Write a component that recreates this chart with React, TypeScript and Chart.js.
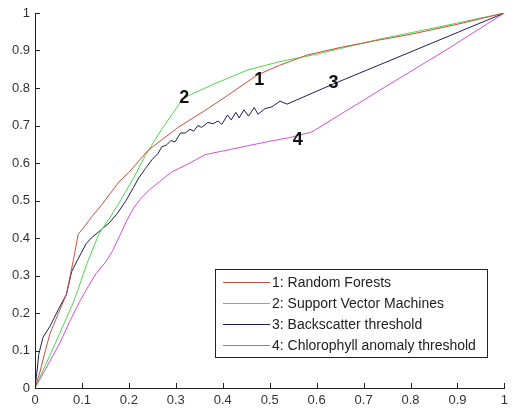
import React, { useEffect, useRef } from "react";
import { Chart, registerables } from "chart.js";

Chart.register(...registerables);

const tickValues = [0, 0.1, 0.2, 0.3, 0.4, 0.5, 0.6, 0.7, 0.8, 0.9, 1];
const tickLabels = ["0", "0.1", "0.2", "0.3", "0.4", "0.5", "0.6", "0.7", "0.8", "0.9", "1"];

const seriesNames = [
  "1: Random Forests",
  "2: Support Vector Machines",
  "3: Backscatter threshold",
  "4: Chlorophyll anomaly threshold",
];
const seriesColors = ["#c9503f", "#4fd84f", "#1e1e5a", "#d64fd6"];

const rfX = [0, 0.01, 0.02, 0.032, 0.05, 0.067, 0.08, 0.092, 0.105, 0.12, 0.143, 0.179, 0.2, 0.242, 0.305, 0.362, 0.41, 0.474, 0.52, 0.58, 0.65, 0.733, 0.8, 0.9, 1];
const rfY = [0, 0.04, 0.09, 0.145, 0.2, 0.25, 0.33, 0.41, 0.43, 0.455, 0.49, 0.55, 0.575, 0.635, 0.695, 0.74, 0.78, 0.835, 0.86, 0.888, 0.908, 0.928, 0.943, 0.97, 1];

const svmX = [0, 0.04, 0.084, 0.11, 0.137, 0.16, 0.182, 0.21, 0.235, 0.27, 0.316, 0.38, 0.453, 0.52, 0.6, 0.733, 0.85, 1];
const svmY = [0, 0.11, 0.235, 0.33, 0.413, 0.455, 0.5, 0.56, 0.62, 0.69, 0.773, 0.81, 0.848, 0.87, 0.89, 0.93, 0.96, 1];

const bsX = [0, 0.003, 0.008, 0.017, 0.032, 0.05, 0.067, 0.078, 0.09, 0.109, 0.12, 0.137, 0.158, 0.175, 0.194, 0.21, 0.221, 0.235, 0.25, 0.262, 0.27, 0.28, 0.29, 0.298, 0.31, 0.32, 0.33, 0.338, 0.347, 0.355, 0.368, 0.38, 0.39, 0.398, 0.41, 0.418, 0.428, 0.435, 0.445, 0.455, 0.467, 0.475, 0.49, 0.505, 0.522, 0.537, 0.636, 0.775, 1];
const bsY = [0, 0.03, 0.09, 0.135, 0.165, 0.21, 0.25, 0.31, 0.34, 0.385, 0.4, 0.418, 0.44, 0.465, 0.5, 0.535, 0.56, 0.585, 0.61, 0.625, 0.643, 0.648, 0.66, 0.656, 0.68, 0.68, 0.69, 0.685, 0.7, 0.695, 0.708, 0.705, 0.712, 0.703, 0.728, 0.715, 0.735, 0.72, 0.742, 0.725, 0.748, 0.73, 0.745, 0.75, 0.765, 0.757, 0.811, 0.883, 1];

const chX = [0, 0.02, 0.053, 0.075, 0.095, 0.113, 0.13, 0.15, 0.165, 0.18, 0.195, 0.21, 0.225, 0.245, 0.265, 0.29, 0.33, 0.362, 0.4, 0.45, 0.5, 0.543, 0.59, 0.733, 0.874, 1];
const chY = [0, 0.045, 0.12, 0.18, 0.23, 0.27, 0.305, 0.335, 0.365, 0.405, 0.445, 0.48, 0.505, 0.53, 0.55, 0.575, 0.6, 0.622, 0.632, 0.645, 0.658, 0.668, 0.683, 0.793, 0.9, 1];

const curveLabels = ["1", "2", "3", "4"];
const curveLabelX = [0.478, 0.318, 0.636, 0.56];
const curveLabelY = [0.822, 0.772, 0.814, 0.661];

const FONT = "'Liberation Sans', Arial, sans-serif";

function pts(xs: number[], ys: number[]) {
  return xs.map((x, i) => ({ x, y: ys[i] }));
}

const overlayPlugin = {
  id: "overlay",
  afterDraw(chart: any) {
    const ctx = chart.ctx;
    const xs = chart.scales.x;
    const ys = chart.scales.y;
    const area = chart.chartArea;
    ctx.save();
    ctx.strokeStyle = "#222";
    ctx.lineWidth = 1;
    ctx.beginPath();
    tickValues.forEach((v) => {
      const px = Math.round(xs.getPixelForValue(v)) + 0.5;
      ctx.moveTo(px, area.bottom);
      ctx.lineTo(px, area.bottom - 5);
      const py = Math.round(ys.getPixelForValue(v)) + 0.5;
      ctx.moveTo(area.left, py);
      ctx.lineTo(area.left + 5, py);
    });
    ctx.stroke();

    ctx.fillStyle = "#111";
    ctx.font = `bold 18px ${FONT}`;
    ctx.textAlign = "center";
    ctx.textBaseline = "middle";
    curveLabels.forEach((t, i) => {
      ctx.fillText(t, xs.getPixelForValue(curveLabelX[i]), ys.getPixelForValue(curveLabelY[i]));
    });

    const bx = 215.5, by = 269.5, bw = 272, bh = 88;
    ctx.fillStyle = "#fff";
    ctx.fillRect(bx, by, bw, bh);
    ctx.strokeStyle = "#222";
    ctx.strokeRect(bx, by, bw, bh);
    ctx.font = `14px ${FONT}`;
    ctx.textAlign = "left";
    seriesNames.forEach((name, i) => {
      const y = 282 + i * 21;
      ctx.strokeStyle = seriesColors[i];
      ctx.beginPath();
      ctx.moveTo(223, y + 0.5);
      ctx.lineTo(270, y + 0.5);
      ctx.stroke();
      ctx.fillStyle = "#222";
      ctx.fillText(name, 272, y + 1);
    });
    ctx.restore();
  },
};

export default function App() {
  const ref = useRef<HTMLCanvasElement>(null);
  useEffect(() => {
    if (!ref.current) return;
    const data = [pts(rfX, rfY), pts(svmX, svmY), pts(bsX, bsY), pts(chX, chY)];
    const tickCb = (v: any) => tickLabels[tickValues.findIndex((t) => Math.abs(t - v) < 1e-6)] ?? "";
    const chart = new Chart(ref.current, {
      type: "scatter",
      data: {
        datasets: data.map((d, i) => ({
          label: seriesNames[i],
          data: d,
          showLine: true,
          borderColor: seriesColors[i],
          backgroundColor: seriesColors[i],
          borderWidth: 1,
          pointRadius: 0,
          tension: 0,
        })),
      },
      options: {
        responsive: false,
        animation: false,
        layout: { padding: { top: 13, right: 3, left: 0, bottom: 0 } },
        plugins: { legend: { display: false }, tooltip: { enabled: false } },
        scales: {
          x: {
            type: "linear",
            min: 0,
            max: 1,
            afterFit: (s: any) => { s.height = 23; },
            afterBuildTicks: (s: any) => { s.ticks = tickValues.map((v) => ({ value: v })); },
            grid: { display: false, drawTicks: false },
            border: { display: true, color: "#222", width: 1 },
            ticks: {
              padding: 5,
              color: "#333",
              font: { family: FONT, size: 13 },
              maxRotation: 0,
              autoSkip: false,
              callback: tickCb,
            },
          },
          y: {
            type: "linear",
            min: 0,
            max: 1,
            afterFit: (s: any) => { s.width = 35; },
            afterBuildTicks: (s: any) => { s.ticks = tickValues.map((v) => ({ value: v })); },
            grid: { display: false, drawTicks: false },
            border: { display: true, color: "#222", width: 1 },
            ticks: {
              padding: 5,
              color: "#333",
              font: { family: FONT, size: 13 },
              autoSkip: false,
              callback: tickCb,
            },
          },
        },
      },
      plugins: [overlayPlugin],
    } as any);
    return () => chart.destroy();
  }, []);
  return (
    <div style={{ position: "absolute", left: 0, top: 0, width: 513, height: 411, background: "#fff" }}>
      <canvas ref={ref} width={513} height={411} style={{ width: 513, height: 411 }} />
    </div>
  );
}
